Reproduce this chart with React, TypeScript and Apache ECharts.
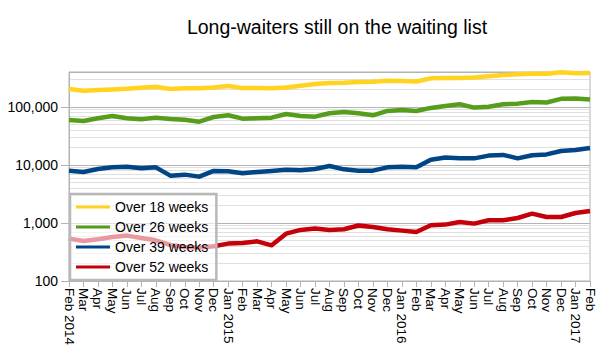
import React, { useEffect, useRef } from 'react';
import * as echarts from 'echarts';

const months = ['Feb 2014','Mar','Apr','May','Jun','Jul','Aug','Sep','Oct','Nov','Dec','Jan 2015','Feb','Mar','Apr','May','Jun','Jul','Aug','Sep','Oct','Nov','Dec','Jan 2016','Feb','Mar','Apr','May','Jun','Jul','Aug','Sep','Oct','Nov','Dec','Jan 2017','Feb'];

const over18 = [203000,190000,195000,200000,205000,214000,223000,203000,209000,209000,217000,229000,211000,211000,209000,217000,232000,248000,258000,261000,268000,272000,283000,279000,275000,311000,315000,315000,323000,337000,355000,365000,374000,374000,395000,380000,385000];
const over26 = [59500,57200,63700,69900,63700,61100,65400,62000,60300,55700,67100,71800,62800,63700,65400,75700,69900,68000,77800,82000,77800,71800,85300,88800,85300,96200,104000,111000,97500,101000,111000,114000,122000,119000,138000,140000,134000];
const over39 = [7970,7570,8530,9100,9350,8750,9100,6540,6810,6290,7880,7760,7170,7570,7880,8300,8070,8530,9610,8410,7970,7970,9100,9350,9100,12300,13400,13000,13000,14500,14900,13000,14700,15200,17400,18100,19600];
const over52 = [538,490,523,574,606,552,503,418,386,376,397,441,452,483,412,655,760,800,760,780,905,853,778,738,700,912,938,1040,975,1114,1114,1219,1449,1268,1268,1486,1610];

const seriesNames = ['Over 18 weeks', 'Over 26 weeks', 'Over 39 weeks', 'Over 52 weeks'];
const seriesColors = ['#ffd320', '#579d1c', '#004586', '#c5000b'];
const seriesData = [over18, over26, over39, over52];

const FONT = 'Liberation Sans, Arial, sans-serif';

export default function App() {
  const ref = useRef<HTMLDivElement>(null);
  useEffect(() => {
    if (!ref.current) return;
    const chart = echarts.init(ref.current, null, { renderer: 'svg' });
    chart.setOption({
      animation: false,
      backgroundColor: '#fff',
      title: {
        text: 'Long-waiters still on the waiting list',
        left: 332,
        textAlign: 'center',
        top: 12,
        textStyle: { fontFamily: FONT, fontSize: 19.5, fontWeight: 'normal', color: '#000' },
      },
      grid: {
        left: 69, right: 12, top: 72, bottom: 76,
        show: true, borderColor: '#b3b3b3', borderWidth: 1,
      },
      legend: {
        orient: 'vertical',
        left: 70,
        top: 194,
        padding: [6, 8, 6, 6],
        icon: 'rect',
        itemWidth: 34,
        itemHeight: 3,
        itemGap: 6,
        backgroundColor: 'rgba(255,255,255,0.6)',
        borderColor: '#b8b8b8',
        borderWidth: 2.5,
        textStyle: { fontFamily: FONT, fontSize: 14, lineHeight: 14, color: '#000' },
        data: seriesNames,
      },
      xAxis: {
        type: 'category',
        data: months,
        boundaryGap: false,
        axisLine: { lineStyle: { color: '#b3b3b3' } },
        axisTick: { show: true, length: 6, interval: 0, lineStyle: { color: '#b3b3b3' } },
        axisLabel: {
          interval: 0, rotate: -90, margin: 7,
          fontFamily: FONT, fontSize: 13.5, color: '#000',
        },
        splitLine: { show: false },
      },
      yAxis: {
        type: 'log',
        logBase: 10,
        min: 100,
        max: 400000,
        axisLine: { show: true, lineStyle: { color: '#b3b3b3' } },
        axisTick: { show: true, length: 8, lineStyle: { color: '#b3b3b3' } },
        axisLabel: {
          showMaxLabel: false,
          margin: 11,
          fontFamily: FONT, fontSize: 14, color: '#000',
          formatter: (v: number) => Math.round(v).toLocaleString('en-US'),
        },
        splitLine: { show: true, lineStyle: { color: '#b3b3b3', width: 1 } },
        minorTick: { show: false, splitNumber: 9 },
        minorSplitLine: { show: true, lineStyle: { color: '#e0e0e0', width: 1 } },
      },
      series: seriesNames.map((name, i) => ({
        name,
        type: 'line',
        data: seriesData[i],
        symbol: 'none',
        color: seriesColors[i],
        lineStyle: { width: 4.5, color: seriesColors[i], join: 'round' },
        z: 2,
      })),
    });
    return () => chart.dispose();
  }, []);
  return <div ref={ref} style={{ position: 'fixed', left: 0, top: 0, width: 602, height: 357 }} />;
}
